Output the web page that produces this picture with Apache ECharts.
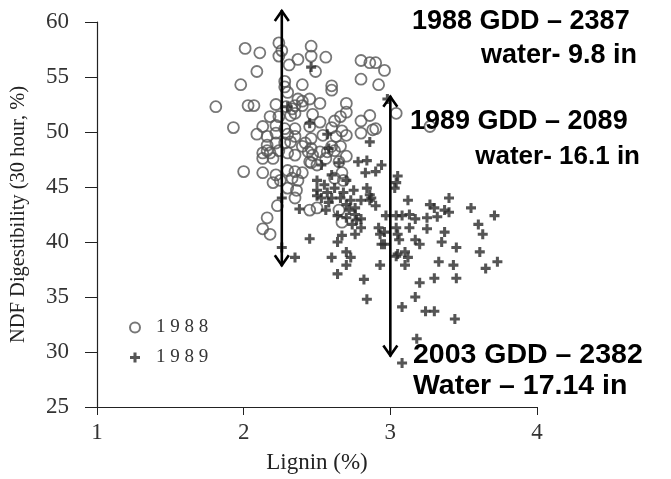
<!DOCTYPE html>
<html><head><meta charset="utf-8">
<script src="https://cdn.jsdelivr.net/npm/echarts@6/dist/echarts.min.js"></script>
<style>html,body{margin:0;padding:0;background:#fff}#c{width:671px;height:479px}</style>
</head><body><div id="c"></div>
<script>
// Lignin (%) , NDF digestibility (%)
const lignin1988 = [2.01,2.11,2.24,2.26,2.46,2.24,2.46,2.56,2.37,2.31,2.09,2.49,2.80,2.86,2.96,2.80,2.92,1.98,2.28,2.40,2.60,2.60,2.28,2.30,1.81,2.03,2.07,2.22,2.37,2.40,2.45,2.52,2.70,2.29,2.33,2.35,2.40,2.18,2.24,2.32,2.35,2.47,2.70,2.62,2.66,2.52,2.80,2.86,1.93,2.13,2.22,2.28,2.35,2.45,2.60,2.67,2.88,2.80,2.09,2.16,2.22,2.30,2.35,2.54,2.63,2.70,2.46,2.16,2.22,2.28,2.32,2.40,2.46,2.52,2.60,2.66,2.13,2.18,2.30,2.70,2.16,2.20,2.13,2.24,2.35,2.44,2.47,2.57,2.00,2.13,2.22,2.20,2.30,2.35,2.40,2.33,2.37,2.25,2.30,2.36,2.46,2.62,2.67,2.68,2.35,2.23,2.45,2.50,2.65,2.16,2.13,2.18,2.67,2.90,3.04,2.90,3.27,2.42,2.45,2.50,2.56,2.65,2.62];
const ndf1988 = [57.6,57.2,58.1,57.4,57.8,56.9,56.9,56.8,56.6,56.1,55.5,55.5,56.5,56.3,55.6,54.8,54.3,54.3,54.6,54.3,54.2,53.8,54.1,53.6,52.3,52.4,52.4,52.5,53.0,52.8,53.0,52.6,52.6,52.3,52.1,52.4,52.4,51.4,51.4,51.5,51.7,51.6,51.8,51.0,51.4,50.9,51.0,51.5,50.4,50.5,50.6,50.3,50.3,50.5,50.4,50.1,50.2,49.9,49.8,49.6,49.9,49.8,49.6,49.7,49.6,49.7,49.4,48.8,49.0,49.0,49.1,48.7,48.5,48.2,48.7,48.7,48.1,48.1,48.1,47.8,48.3,47.6,47.6,48.3,47.9,48.2,47.9,48.2,46.4,46.3,46.1,45.4,46.5,46.4,46.3,45.8,45.6,45.6,44.9,44.7,47.2,45.8,46.3,45.6,44.0,43.3,42.9,43.1,42.9,42.2,41.2,40.7,41.8,56.3,51.7,50.3,50.5,49.0,47.3,47.0,47.6,47.3,48.3];
const lignin1989 = [2.46,2.98,2.86,2.57,2.45,2.58,2.30,2.53,2.65,2.78,2.84,2.94,2.83,2.90,2.50,2.60,2.55,2.70,2.50,2.57,2.53,2.60,2.66,2.75,2.84,2.73,2.80,2.87,2.26,2.38,2.56,2.64,2.70,2.76,2.80,2.74,2.80,2.86,2.90,2.97,2.92,2.67,2.64,2.45,2.93,2.94,2.70,2.73,2.60,2.70,2.26,2.35,2.93,2.64,3.05,3.04,3.03,3.12,3.27,3.30,3.40,3.55,3.71,3.37,3.40,3.04,3.08,3.13,3.17,3.25,3.32,3.60,3.63,3.04,3.05,3.06,3.13,3.17,3.20,3.25,3.37,3.35,3.45,3.61,3.05,2.50,2.70,2.77,2.76,2.96,2.96,2.86,2.76,2.82,2.84,3.04,3.10,3.12,3.10,3.20,3.30,3.33,3.43,3.45,3.65,3.73,3.17,3.08,3.24,3.30,3.44,3.18,3.08,2.62,2.68,2.58,2.72];
const ndf1989 = [55.9,53.0,49.1,49.8,50.8,48.5,52.3,47.0,47.2,47.3,47.4,47.0,46.3,46.4,45.6,46.1,45.2,45.6,44.7,44.5,44.0,44.0,44.0,44.7,44.9,43.8,43.8,44.0,44.0,43.0,42.9,42.4,42.2,42.5,42.1,41.6,41.3,43.8,43.3,42.4,41.3,40.6,40.0,40.3,40.7,39.8,39.1,38.6,38.6,37.9,39.5,38.6,37.9,37.1,46.0,45.4,44.9,43.8,43.4,43.1,44.0,43.1,42.4,42.9,42.7,42.4,42.4,42.5,42.1,42.2,42.3,41.6,40.7,41.3,40.7,40.2,41.3,40.2,39.8,41.2,40.9,40.0,39.5,39.1,38.9,44.2,43.4,42.0,40.7,40.9,39.8,44.3,43.1,36.6,34.8,38.7,39.1,38.6,37.9,36.3,36.7,38.2,37.9,36.7,37.6,38.2,35.0,34.1,33.7,33.7,33.0,31.2,29.0,44.9,44.5,43.6,42.9];

const xTicks = [1,2,3,4];
const yTicks = [25,30,35,40,45,50,55,60];

// annotation arrows (lignin position, bottom and top NDF)
const arrowX = [2.26, 3.0];
const arrowTop = [61.1, 53.3];
const arrowBottom = [37.8, 29.6];

const notes = [
  {text:'1988 GDD \u2013 2387', x:412, y:22, align:'left', size:27},
  {text:'water- 9.8 in', x:637, y:56, align:'right', size:27},
  {text:'1989 GDD \u2013 2089', x:410, y:122, align:'left', size:27},
  {text:'water- 16.1 in', x:640, y:157, align:'right', size:26},
  {text:'2003 GDD \u2013 2382', x:413, y:355, align:'left', size:28.5},
  {text:'Water \u2013 17.14 in', x:413, y:386, align:'left', size:28.5}
];

const pts = (xs, ys) => xs.map((v,i)=>[v, ys[i]]);
const plusPath = 'path://M3.3,0 H6.2 V3.3 H9.5 V6.2 H6.2 V9.5 H3.3 V6.2 H0 V3.3 H3.3 Z';
const serif = '"Liberation Serif", "DejaVu Serif", serif';

const chart = echarts.init(document.getElementById('c'), null, {renderer:'canvas'});
chart.setOption({
  animation:false,
  backgroundColor:'#fff',
  grid:{left:88, top:22, right:134, bottom:67},
  xAxis:{type:'value', min:1, max:4, interval:1,
    name:'Lignin (%)', nameLocation:'middle', nameGap:44,
    nameTextStyle:{fontFamily:serif, fontSize:23, color:'#222'},
    axisLine:{lineStyle:{color:'#222', width:1.2}},
    axisTick:{show:true, length:8, lineStyle:{color:'#222'}},
    axisLabel:{fontFamily:serif, fontSize:23, color:'#333', margin:14,
      formatter:v=> xTicks.includes(v)? String(v):''},
    splitLine:{show:false}},
  yAxis:{type:'value', min:25, max:60, interval:5,
    name:'NDF Digestibility (30 hour, %)', nameLocation:'middle', nameGap:68,
    nameTextStyle:{fontFamily:serif, fontSize:20.5, color:'#222'},
    axisLine:{show:true, lineStyle:{color:'#222', width:1.2}},
    axisTick:{show:true, length:12, lineStyle:{color:'#222'}},
    axisLabel:{fontFamily:serif, fontSize:23, color:'#333', margin:28,
      formatter:v=> yTicks.includes(v)? String(v):''},
    splitLine:{show:false}},
  legend:{orient:'vertical', left:124, top:313, itemGap:11, itemWidth:12, itemHeight:10,
    textStyle:{fontFamily:serif, fontSize:19, color:'#333', padding:[0,0,0,10]},
    formatter:n=>n.split('').join(' '),
    data:['1988','1989']},
  series:[
    {name:'1988', type:'scatter', data:pts(lignin1988, ndf1988), symbol:'circle', symbolSize:11,
     itemStyle:{color:'rgba(255,255,255,0)', borderColor:'#555', borderWidth:1.8}, z:2},
    {name:'1989', type:'scatter', data:pts(lignin1989, ndf1989), symbol:plusPath, symbolSize:10,
     itemStyle:{color:'#2a2a2a'}, z:3},
    {name:'arrows', type:'custom', clip:false, z:10, silent:true,
     data: arrowX.map((x,i)=>[x, arrowBottom[i], arrowTop[i]]),
     encode:{x:0, y:[1,2]},
     renderItem:(params, api)=>{
       const x = api.value(0);
       const p1 = api.coord([x, api.value(1)]);
       const p2 = api.coord([x, api.value(2)]);
       const st = {stroke:'#000', lineWidth:2.6, fill:null, lineJoin:'miter'};
       return {type:'group', children:[
         {type:'line', shape:{x1:p1[0], y1:p1[1], x2:p2[0], y2:p2[1]}, style:st},
         {type:'polyline', shape:{points:[[p2[0]-7,p2[1]+11],[p2[0],p2[1]+1],[p2[0]+7,p2[1]+11]]}, style:st},
         {type:'polyline', shape:{points:[[p1[0]-7,p1[1]-11],[p1[0],p1[1]-1],[p1[0]+7,p1[1]-11]]}, style:st}
       ]};
     }}
  ],
  graphic: notes.map(n=>({type:'text', x:n.x, y:n.y, z:100,
    style:{text:n.text, fill:'#000', font:'bold '+n.size+'px "Liberation Sans", Arial, sans-serif',
      textAlign:n.align, textVerticalAlign:'middle'}}))
});
</script></body></html>
